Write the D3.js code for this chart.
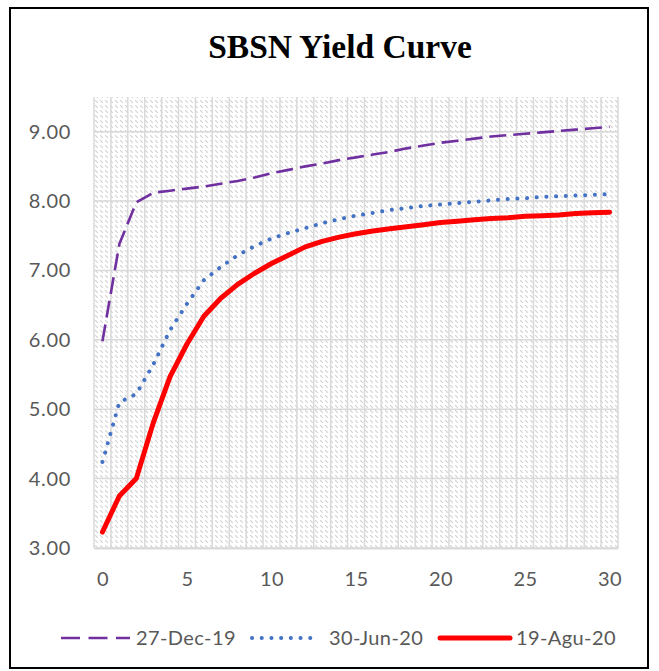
<html>
<head>
<meta charset="utf-8">
<script type="text/javascript" src="https://cdn.jsdelivr.net/npm/d3@7/dist/d3.min.js"></script>
<style>
body {
    margin: 0;
    background: white;
}
text {
    font-family: Lato, "Open Sans", sans-serif;
    fill: #595959;
}
.grid line {
    stroke: #d9d9d9;
    stroke-width: 1.5;
}
</style>
</head>
<body>
<div id="container"></div>

<script type="text/javascript">
// tenor in years (category axis 0..30)
var tenors = d3.range(0, 31);

var seriesNames = ['27-Dec-19', '30-Jun-20', '19-Agu-20'];

var dec19 = [5.98, 7.38, 7.98, 8.12, 8.15, 8.18, 8.21, 8.25, 8.29, 8.34,
             8.40, 8.45, 8.50, 8.54, 8.59, 8.63, 8.67, 8.71, 8.76, 8.80,
             8.84, 8.87, 8.90, 8.93, 8.95, 8.97, 8.99, 9.01, 9.03, 9.05, 9.07];

var jun20 = [4.24, 5.10, 5.22, 5.64, 6.14, 6.52, 6.86, 7.05, 7.22, 7.35,
             7.46, 7.54, 7.61, 7.68, 7.74, 7.79, 7.83, 7.87, 7.90, 7.93,
             7.95, 7.97, 7.99, 8.01, 8.03, 8.04, 8.06, 8.07, 8.08, 8.09, 8.10];

var agu20 = [3.23, 3.75, 4.00, 4.80, 5.47, 5.94, 6.34, 6.60, 6.80, 6.96,
             7.10, 7.22, 7.34, 7.42, 7.48, 7.53, 7.57, 7.60, 7.63, 7.66,
             7.69, 7.71, 7.73, 7.75, 7.76, 7.78, 7.79, 7.80, 7.82, 7.83, 7.84];

var yTicks = [3, 4, 5, 6, 7, 8, 9];
var xTicks = [0, 5, 10, 15, 20, 25, 30];

var width = 659;
var height = 671;

var svg = d3.select('#container').append('svg')
    .attr('width', width)
    .attr('height', height);

// hatch fill for plot area (dashed downward diagonal)
var defs = svg.append('defs');
var pat = defs.append('pattern')
    .attr('id', 'hatch')
    .attr('patternUnits', 'userSpaceOnUse')
    .attr('width', 5)
    .attr('height', 5);
pat.append('rect').attr('width', 5).attr('height', 5).attr('fill', 'white');
pat.append('path')
    .attr('d', 'M0,0 L5,5')
    .attr('stroke', '#d2d2d2')
    .attr('stroke-width', 1.1)
    .attr('stroke-dasharray', '4 3.07');

// outer border
svg.append('rect')
    .attr('x', 10).attr('y', 8)
    .attr('width', 638).attr('height', 660)
    .attr('fill', 'white')
    .attr('stroke', 'black')
    .attr('stroke-width', 2);

svg.append('text')
    .attr('x', 340)
    .attr('y', 58)
    .attr('text-anchor', 'middle')
    .style('font-family', '"Liberation Serif", "Times New Roman", serif')
    .style('font-weight', 'bold')
    .style('font-size', '33.5px')
    .style('fill', 'black')
    .text('SBSN Yield Curve');

var x = d3.scaleLinear().domain([-0.5, 30.5]).range([94, 618]);
var y = d3.scaleLinear().domain([3, 9.5]).range([548, 97]);

svg.append('rect')
    .attr('x', x(-0.5))
    .attr('y', y(9.5))
    .attr('width', x(30.5) - x(-0.5))
    .attr('height', y(3) - y(9.5))
    .attr('fill', 'url(#hatch)');

// vertical gridlines at category boundaries
var grid = svg.append('g').attr('class', 'grid');
grid.selectAll('line.v')
    .data(d3.range(-0.5, 31, 1))
    .enter()
    .append('line')
    .attr('class', 'v')
    .attr('x1', function(d) { return x(d); })
    .attr('x2', function(d) { return x(d); })
    .attr('y1', y(9.5))
    .attr('y2', y(3));

grid.selectAll('line.h')
    .data(yTicks)
    .enter()
    .append('line')
    .attr('class', 'h')
    .attr('x1', x(-0.5))
    .attr('x2', x(30.5))
    .attr('y1', function(d) { return y(d); })
    .attr('y2', function(d) { return y(d); });

// axes
var yAxis = d3.axisLeft(y)
    .tickValues(yTicks)
    .tickFormat(d3.format('.2f'))
    .tickSize(0)
    .tickPadding(23);
var gy = svg.append('g')
    .attr('transform', 'translate(' + x(-0.5) + ',0)')
    .call(yAxis);
gy.select('.domain').remove();
gy.selectAll('text')
    .style('font-family', 'Lato, sans-serif')
    .style('font-size', '20px')
    .style('letter-spacing', '0.7px')
    .style('fill', '#595959');

var xAxis = d3.axisBottom(x)
    .tickValues(xTicks)
    .tickSize(0)
    .tickPadding(24);
var gx = svg.append('g')
    .attr('transform', 'translate(0,' + y(3) + ')')
    .call(xAxis);
gx.select('.domain')
    .attr('stroke', '#d9d9d9')
    .attr('stroke-width', 2);
gx.selectAll('text')
    .style('font-family', 'Lato, sans-serif')
    .style('font-size', '20px')
    .style('letter-spacing', '0.5px')
    .style('fill', '#595959');

// series
var series = [
    { name: seriesNames[0], values: dec19, color: '#7030A0', width: 2.6, dash: '17 7', cap: 'butt' },
    { name: seriesNames[1], values: jun20, color: '#4472C4', width: 4, dash: '0.1 9.6', cap: 'round' },
    { name: seriesNames[2], values: agu20, color: '#FF0000', width: 5, dash: null, cap: 'round' }
];

var line = d3.line()
    .x(function(d, i) { return x(tenors[i]); })
    .y(function(d) { return y(d); });

svg.selectAll('path.series')
    .data(series)
    .enter()
    .append('path')
    .attr('class', 'series')
    .attr('fill', 'none')
    .attr('stroke', function(d) { return d.color; })
    .attr('stroke-width', function(d) { return d.width; })
    .attr('stroke-dasharray', function(d) { return d.dash; })
    .attr('stroke-linecap', function(d) { return d.cap; })
    .attr('stroke-linejoin', 'round')
    .attr('d', function(d) { return line(d.values); });

// legend
var legendX = [61, 252, 440];
var legendLen = [69, 62, 70];
var legendY = 638;

var lg = svg.selectAll('g.legend')
    .data(series)
    .enter()
    .append('g')
    .attr('class', 'legend');

lg.append('line')
    .attr('x1', function(d, i) { return legendX[i]; })
    .attr('x2', function(d, i) { return legendX[i] + legendLen[i]; })
    .attr('y1', legendY)
    .attr('y2', legendY)
    .attr('stroke', function(d) { return d.color; })
    .attr('stroke-width', function(d) { return d.width; })
    .attr('stroke-dasharray', function(d, i) { return i == 0 ? '19 8.5' : d.dash; })
    .attr('stroke-linecap', function(d) { return d.cap; });

lg.append('text')
    .attr('x', function(d, i) { return legendX[i] + legendLen[i] + (i == 1 ? 15 : 6); })
    .attr('y', legendY)
    .attr('dy', '.35em')
    .style('font-size', '20px')
    .style('letter-spacing', '0.4px')
    .text(function(d) { return d.name; });
</script>
</body>
</html>
